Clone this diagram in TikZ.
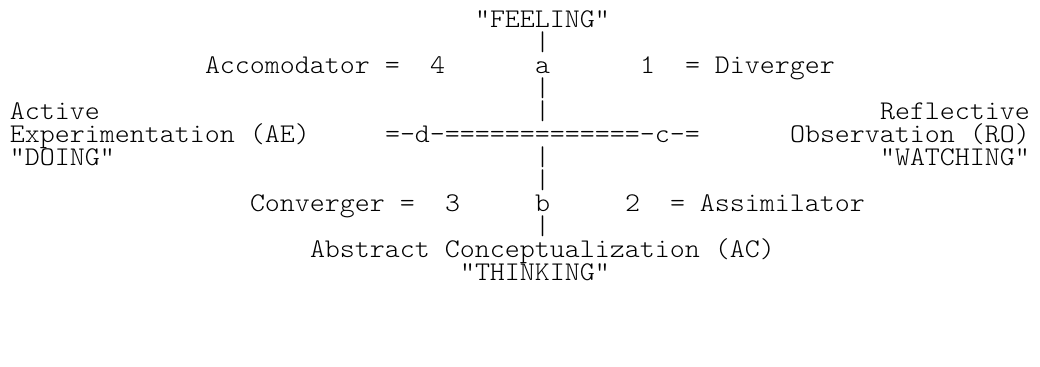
\documentclass[tikz,border=0pt]{standalone}
\usepackage{fontspec}
\newfontfamily\asciifont{lmmonolt10-regular}[Extension=.otf,FakeStretch=1.058]
\newcommand\asciicell[4]{\node[txt] (#1) at ({10+15*#2},{28+23*#3}) {#4};}
\begin{document}
\begin{tikzpicture}[x=0.75pt,y=-0.75pt,
  txt/.style={inner sep=0pt,outer sep=0pt,anchor=base west,text=black,
    text height=11pt,text depth=2pt,
    font=\asciifont\fontsize{20.25pt}{20.25pt}\selectfont}]
\fill[white] (0,0) rectangle (1040,367);
\useasboundingbox (0,0) rectangle (1040,367);
\asciicell{feel}{31}{0}{"FEELING"}
\asciicell{bar1}{35}{1}{|}
\asciicell{acc}{13}{2}{Accomodator =}
\asciicell{four}{28}{2}{4}
\asciicell{a}{35}{2}{a}
\asciicell{one}{42}{2}{1}
\asciicell{div}{45}{2}{= Diverger}
\asciicell{bar2}{35}{3}{|}
\asciicell{act}{0}{4}{Active}
\asciicell{bar3}{35}{4}{|}
\asciicell{refl}{58}{4}{Reflective}
\asciicell{exper}{0}{5}{Experimentation (AE)}
\asciicell{axis}{25}{5}{=-d-=============-c-=}
\asciicell{obs}{52}{5}{Observation (RO)}
\asciicell{doing}{0}{6}{"DOING"}
\asciicell{bar4}{35}{6}{|}
\asciicell{watch}{58}{6}{"WATCHING"}
\asciicell{bar5}{35}{7}{|}
\asciicell{conv}{16}{8}{Converger =}
\asciicell{three}{29}{8}{3}
\asciicell{b}{35}{8}{b}
\asciicell{two}{41}{8}{2}
\asciicell{assim}{44}{8}{= Assimilator}
\asciicell{bar6}{35}{9}{|}
\asciicell{abs}{20}{10}{Abstract Conceptualization (AC)}
\asciicell{think}{30}{11}{"THINKING"}
\end{tikzpicture}
\end{document}
